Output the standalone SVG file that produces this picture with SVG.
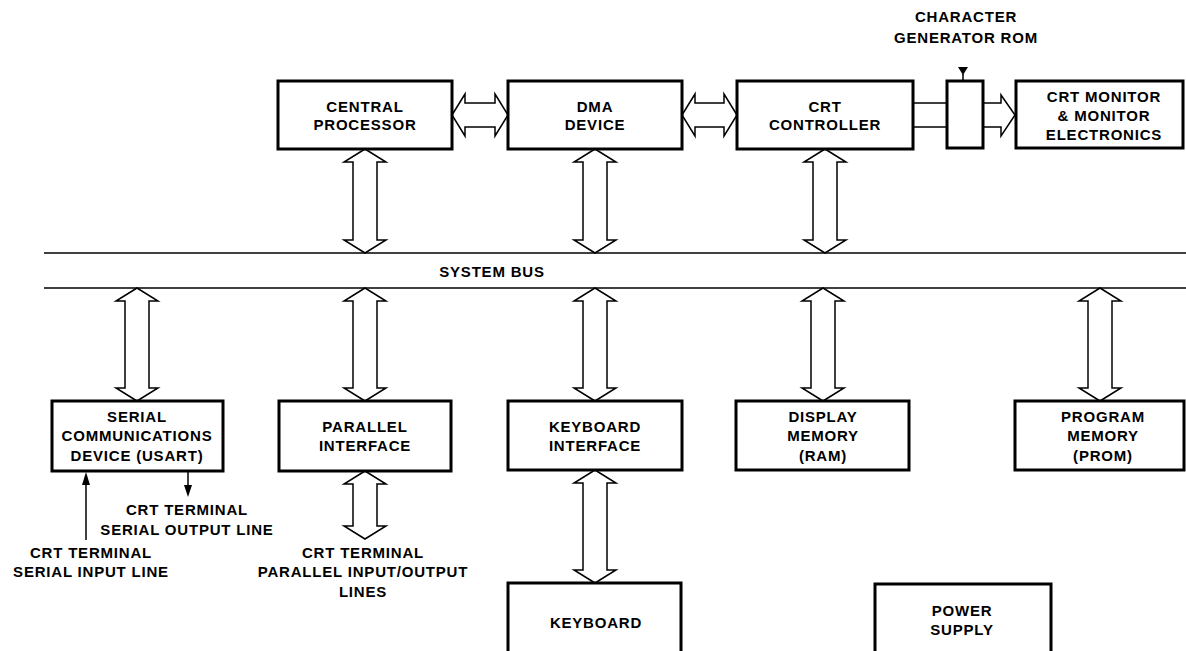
<svg xmlns="http://www.w3.org/2000/svg" width="1186" height="651" viewBox="0 0 1186 651">
<style>
.box{fill:#fff;stroke:#000;stroke-width:3}
.arr{fill:#fff;stroke:#000;stroke-width:1.5;stroke-linejoin:miter}
.ln{fill:none;stroke:#000;stroke-width:1.5}
.bus{fill:none;stroke:#000;stroke-width:1.6}
.tip{fill:#000;stroke:none}
text{font-family:"Liberation Sans",Arial,sans-serif;font-size:15px;font-weight:bold;letter-spacing:0.8px;text-anchor:middle;fill:#000}
</style>
<rect width="1186" height="651" fill="#fff"/>

<g id="connectors">
<line class="bus" x1="44" y1="253" x2="1186" y2="253"/>
<line class="bus" x1="44" y1="288" x2="1186" y2="288"/>
<path class="arr" d="M452,115 L465,94 L465,103 L495,103 L495,94 L508,115 L495,136 L495,127 L465,127 L465,136 Z"/>
<path class="arr" d="M682,115 L695,94 L695,103 L724,103 L724,94 L737,115 L724,136 L724,127 L695,127 L695,136 Z"/>
<path class="ln" d="M913,103 H947 M913,127 H947"/>
<path class="arr" d="M983,103 L1001,103 L1001,95 L1015,115 L1001,136 L1001,127 L983,127"/>
<path class="tip" d="M958,67 L968,67 L963,75 Z"/>
<line class="ln" x1="963" y1="74" x2="963" y2="81"/>
<path class="arr" d="M365,149 L386,162 L377,162 L377,240 L386,240 L365,253 L344,240 L353,240 L353,162 L344,162 Z"/>
<path class="arr" d="M595,149 L616,162 L607,162 L607,240 L616,240 L595,253 L574,240 L583,240 L583,162 L574,162 Z"/>
<path class="arr" d="M825,149 L846,162 L837,162 L837,240 L846,240 L825,253 L804,240 L813,240 L813,162 L804,162 Z"/>
<path class="arr" d="M137,288 L158,301 L149,301 L149,388 L158,388 L137,401 L116,388 L125,388 L125,301 L116,301 Z"/>
<path class="arr" d="M365,288 L386,301 L377,301 L377,388 L386,388 L365,401 L344,388 L353,388 L353,301 L344,301 Z"/>
<path class="arr" d="M595,288 L616,301 L607,301 L607,388 L616,388 L595,401 L574,388 L583,388 L583,301 L574,301 Z"/>
<path class="arr" d="M823,288 L844,301 L835,301 L835,388 L844,388 L823,401 L802,388 L811,388 L811,301 L802,301 Z"/>
<path class="arr" d="M1100,288 L1121,301 L1112,301 L1112,388 L1121,388 L1100,401 L1079,388 L1088,388 L1088,301 L1079,301 Z"/>
<path class="arr" d="M365,471 L386,484 L377,484 L377,526 L386,526 L365,539 L344,526 L353,526 L353,484 L344,484 Z"/>
<path class="arr" d="M595,470 L616,483 L607,483 L607,570 L616,570 L595,583 L574,570 L583,570 L583,483 L574,483 Z"/>
<line class="ln" x1="86" y1="540" x2="86" y2="482"/>
<path class="tip" d="M86,472 L82,485 L90,485 Z"/>
<line class="ln" x1="188" y1="472" x2="188" y2="487"/>
<path class="tip" d="M188,497 L184,485 L192,485 Z"/>
</g>

<g id="char-rom-label">
<text x="966" y="22">CHARACTER</text>
<text x="966" y="43">GENERATOR ROM</text>
</g>

<g id="central-processor">
<rect class="box" x="278" y="81" width="174" height="68"/>
<text x="365" y="111.5">CENTRAL</text>
<text x="365" y="130">PROCESSOR</text>
</g>
<g id="dma-device">
<rect class="box" x="508" y="81" width="174" height="68"/>
<text x="595" y="111.5">DMA</text>
<text x="595" y="130">DEVICE</text>
</g>
<g id="crt-controller">
<rect class="box" x="737" y="81" width="176" height="68"/>
<text x="825" y="111.5">CRT</text>
<text x="825" y="130">CONTROLLER</text>
</g>
<g id="char-rom">
<rect class="box" x="947" y="81" width="36" height="67"/>
</g>
<g id="crt-monitor">
<rect class="box" x="1016" y="81" width="167" height="67"/>
<text x="1104" y="102">CRT MONITOR</text>
<text x="1104" y="121">&amp; MONITOR</text>
<text x="1104" y="140">ELECTRONICS</text>
</g>

<g id="system-bus-label">
<text x="492" y="277">SYSTEM BUS</text>
</g>

<g id="usart">
<rect class="box" x="52" y="401" width="171" height="70"/>
<text x="137" y="422">SERIAL</text>
<text x="137" y="441">COMMUNICATIONS</text>
<text x="137" y="461">DEVICE (USART)</text>
</g>
<g id="parallel-interface">
<rect class="box" x="279" y="401" width="172" height="70"/>
<text x="365" y="432">PARALLEL</text>
<text x="365" y="451">INTERFACE</text>
</g>
<g id="keyboard-interface">
<rect class="box" x="508" y="401" width="174" height="69"/>
<text x="595" y="432">KEYBOARD</text>
<text x="595" y="451">INTERFACE</text>
</g>
<g id="display-memory">
<rect class="box" x="736" y="401" width="173" height="69"/>
<text x="823" y="422">DISPLAY</text>
<text x="823" y="441">MEMORY</text>
<text x="823" y="461">(RAM)</text>
</g>
<g id="program-memory">
<rect class="box" x="1015" y="401" width="169" height="69"/>
<text x="1103" y="422">PROGRAM</text>
<text x="1103" y="441">MEMORY</text>
<text x="1103" y="461">(PROM)</text>
</g>

<g id="serial-output-label">
<text x="187" y="515">CRT TERMINAL</text>
<text x="187" y="535">SERIAL OUTPUT LINE</text>
</g>
<g id="serial-input-label">
<text x="91" y="558">CRT TERMINAL</text>
<text x="91" y="577">SERIAL INPUT LINE</text>
</g>
<g id="parallel-io-label">
<text x="363" y="558">CRT TERMINAL</text>
<text x="363" y="577">PARALLEL INPUT/OUTPUT</text>
<text x="363" y="597">LINES</text>
</g>

<g id="keyboard">
<rect class="box" x="508" y="583" width="173" height="80"/>
<text x="596" y="627.5">KEYBOARD</text>
</g>
<g id="power-supply">
<rect class="box" x="875" y="584" width="176" height="80"/>
<text x="962" y="616">POWER</text>
<text x="962" y="635">SUPPLY</text>
</g>
</svg>
